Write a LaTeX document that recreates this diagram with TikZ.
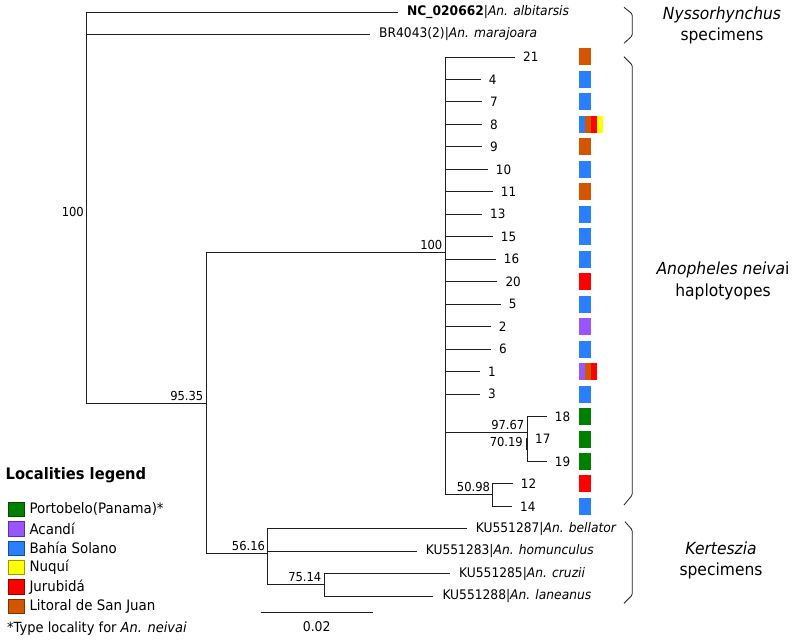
\documentclass[tikz,border=0pt]{standalone}
\usepackage{fontspec}
\setmainfont{DejaVu Sans}[FakeStretch=0.93]
\usepackage{tikz}
\usetikzlibrary{positioning}
\definecolor{locgreen}{RGB}{0, 128, 0}
\definecolor{locpurple}{RGB}{153, 85, 255}
\definecolor{locblue}{RGB}{42, 127, 255}
\definecolor{locyellow}{RGB}{255, 255, 0}
\definecolor{locred}{RGB}{255, 0, 0}
\definecolor{locorange}{RGB}{212, 85, 0}
\definecolor{branchgray}{RGB}{30, 30, 30}
\tikzset{
    branch/.style={draw=branchgray, line width=0.9pt},
    tiplabel/.style={anchor=west, inner xsep=8pt, inner ysep=1pt, font=\fontsize{12.9}{14}\selectfont},
    taxonlabel/.style={anchor=west, inner xsep=9pt, inner ysep=1pt, font=\fontsize{13.2}{14}\selectfont},
    bootval/.style={anchor=south east, inner sep=2.5pt, font=\fontsize{12.4}{13}\selectfont},
    hapbox/.style={anchor=west, minimum width=12.7pt, minimum height=17pt, inner sep=0pt},
    stripe/.style={anchor=west, minimum width=6.1pt, minimum height=17pt, inner sep=0pt},
    groupbrace/.style={draw=branchgray, line width=0.8pt, rounded corners=1.5pt},
    grouplabel/.style={align=center, font=\fontsize{16.7}{21.5}\selectfont},
    legendbox/.style={anchor=west, minimum width=15.5pt, minimum height=14.5pt, inner sep=0pt, line width=0.6pt},
    legendtext/.style={anchor=west, inner sep=0pt, font=\fontsize{14.4}{15}\selectfont},
}

\begin{document}
\begin{tikzpicture}[x=1pt, y=-1pt]
    \useasboundingbox (0,0) rectangle (800,644);

    % internal nodes of the tree
    \coordinate (root) at (86,212);
    \coordinate (n9535) at (206,403);
    \coordinate (n100) at (445,252);
    \coordinate (nclade) at (527,432.7);
    \coordinate (nsub) at (527,438);
    \coordinate (nsubend) at (527,450);
    \coordinate (n5098) at (492.7,494.3);
    \coordinate (nkert) at (267.7,553.3);
    \coordinate (n7514) at (324,584.3);

    % Nyssorhynchus tips
    \node[taxonlabel] (albitarsis) at (398,12.1) {\textbf{NC\_020662}|\textit{An. albitarsis}};
    \node[taxonlabel] (marajoara) at (370,34.5) {BR4043(2)|\textit{An. marajoara}};

    % haplotype tips
    \node[tiplabel] (h21) at (515,57.0) {21};
    \node[tiplabel] (h4) at (480.7,79.5) {4};
    \node[tiplabel] (h7) at (482,101.9) {7};
    \node[tiplabel] (h8) at (482,124.4) {8};
    \node[tiplabel] (h9) at (482,146.9) {9};
    \node[tiplabel] (h10) at (487.7,169.4) {10};
    \node[tiplabel] (h11) at (492.7,191.8) {11};
    \node[tiplabel] (h13) at (482,214.3) {13};
    \node[tiplabel] (h15) at (492.7,236.8) {15};
    \node[tiplabel] (h16) at (495.7,259.2) {16};
    \node[tiplabel] (h20) at (497.3,281.7) {20};
    \node[tiplabel] (h5) at (500.7,304.2) {5};
    \node[tiplabel] (h2) at (490.7,326.6) {2};
    \node[tiplabel] (h6) at (491,349.1) {6};
    \node[tiplabel] (h1) at (480,371.6) {1};
    \node[tiplabel] (h3) at (480,394.0) {3};
    \node[tiplabel] (h18) at (546.7,416.5) {18};
    \node[tiplabel] (h17) at (527,439.0) {17};
    \node[tiplabel] (h19) at (546.7,461.4) {19};
    \node[tiplabel] (h12) at (512.7,483.9) {12};
    \node[tiplabel] (h14) at (512,506.4) {14};

    % Kerteszia tips
    \node[taxonlabel] (bellator) at (466.7,528.8) {KU551287|\textit{An. bellator}};
    \node[taxonlabel] (homunculus) at (416.7,551.3) {KU551283|\textit{An. homunculus}};
    \node[taxonlabel] (cruzii) at (450,573.8) {KU551285|\textit{An. cruzii}};
    \node[taxonlabel] (laneanus) at (433.3,596.2) {KU551288|\textit{An. laneanus}};

    % branches
    \draw[branch] (root) |- (albitarsis.west);
    \draw[branch] (root) |- (marajoara.west);
    \draw[branch] (root) |- (n9535);
    \draw[branch] (n9535) |- (n100);
    \draw[branch] (n9535) |- (nkert);
    \draw[branch] (n100) |- (h21.west);
    \draw[branch] (n100) |- (h4.west);
    \draw[branch] (n100) |- (h7.west);
    \draw[branch] (n100) |- (h8.west);
    \draw[branch] (n100) |- (h9.west);
    \draw[branch] (n100) |- (h10.west);
    \draw[branch] (n100) |- (h11.west);
    \draw[branch] (n100) |- (h13.west);
    \draw[branch] (n100) |- (h15.west);
    \draw[branch] (n100) |- (h16.west);
    \draw[branch] (n100) |- (h20.west);
    \draw[branch] (n100) |- (h5.west);
    \draw[branch] (n100) |- (h2.west);
    \draw[branch] (n100) |- (h6.west);
    \draw[branch] (n100) |- (h1.west);
    \draw[branch] (n100) |- (h3.west);
    \draw[branch] (n100) |- (nclade);
    \draw[branch] (nclade) |- (h18.west);
    \draw[branch] (nclade) |- (h19.west);
    \draw[branch, line width=1.6pt] (nsub) -- (nsubend);
    \draw[branch] (n100) |- (n5098);
    \draw[branch] (n5098) |- (h12.west);
    \draw[branch] (n5098) |- (h14.west);
    \draw[branch] (nkert) |- (bellator.west);
    \draw[branch] (nkert) |- (homunculus.west);
    \draw[branch] (nkert) |- (n7514);
    \draw[branch] (n7514) |- (cruzii.west);
    \draw[branch] (n7514) |- (laneanus.west);

    % support values
    \node[bootval, anchor=east, inner sep=2pt] (bsroot) at (root) {100};
    \node[bootval] (bs9535) at (n9535) {95.35};
    \node[bootval] (bs100) at (n100) {100};
    \node[bootval] (bs9767) at (nclade) {97.67};
    \node[bootval, anchor=north east, yshift=-2pt, xshift=-1.5pt] (bs7019) at (nclade) {70.19};
    \node[bootval] (bs5098) at (n5098) {50.98};
    \node[bootval] (bs5616) at (nkert) {56.16};
    \node[bootval] (bs7514) at (n7514) {75.14};

    % locality boxes
    \node[hapbox, fill=locorange] (c21) at (578.3,57.0) {};
    \node[hapbox, fill=locblue] (c4) at (578.3,79.5) {};
    \node[hapbox, fill=locblue] (c7) at (578.3,101.9) {};
    \node[stripe, fill=locblue] (c8a) at (578.3,124.4) {};
    \node[stripe, fill=locorange] (c8b) at (584.4,124.4) {};
    \node[stripe, fill=locred] (c8c) at (590.5,124.4) {};
    \node[stripe, fill=locyellow] (c8d) at (596.6,124.4) {};
    \node[hapbox, fill=locorange] (c9) at (578.3,146.9) {};
    \node[hapbox, fill=locblue] (c10) at (578.3,169.4) {};
    \node[hapbox, fill=locorange] (c11) at (578.3,191.8) {};
    \node[hapbox, fill=locblue] (c13) at (578.3,214.3) {};
    \node[hapbox, fill=locblue] (c15) at (578.3,236.8) {};
    \node[hapbox, fill=locblue] (c16) at (578.3,259.2) {};
    \node[hapbox, fill=locred] (c20) at (578.3,281.7) {};
    \node[hapbox, fill=locblue] (c5) at (578.3,304.2) {};
    \node[hapbox, fill=locpurple] (c2) at (578.3,326.6) {};
    \node[hapbox, fill=locblue] (c6) at (578.3,349.1) {};
    \node[stripe, fill=locpurple] (c1a) at (578.3,371.6) {};
    \node[stripe, fill=locorange] (c1b) at (584.4,371.6) {};
    \node[stripe, fill=locred] (c1c) at (590.5,371.6) {};
    \node[hapbox, fill=locblue] (c3) at (578.3,394.0) {};
    \node[hapbox, fill=locgreen] (c18) at (578.3,416.5) {};
    \node[hapbox, fill=locgreen] (c17) at (578.3,439.0) {};
    \node[hapbox, fill=locgreen] (c19) at (578.3,461.4) {};
    \node[hapbox, fill=locred] (c12) at (578.3,483.9) {};
    \node[hapbox, fill=locblue] (c14) at (578.3,506.4) {};

    % group brackets
    \draw[groupbrace] (624,7.3) -- (632.3,14) -- (632.3,35.7) -- (624,43.3);
    \draw[groupbrace] (624,56.7) -- (632.3,65) -- (632.3,495) -- (624,505);
    \draw[groupbrace] (625,521.7) -- (632.3,530) -- (632.3,595) -- (624,603.3);
    \node[grouplabel] (nysso) at (722,25.5) {\textit{Nyssorhynchus}\\specimens};
    \node[grouplabel] (neivai) at (723,281) {\textit{Anopheles neiva}i\\haplotyopes};
    \node[grouplabel] (kert) at (721,560.5) {\textit{Kerteszia}\\specimens};

    % scale bar
    \coordinate (sbleft) at (260.7,612.3);
    \coordinate (sbright) at (373.3,612.3);
    \draw[branch] (sbleft) -- (sbright);
    \node[font=\fontsize{13.4}{14}\selectfont] (sbtext) at (316.7,626.5) {0.02};

    % legend
    \node[anchor=west, inner sep=0pt, font=\bfseries\fontsize{15.8}{17}\selectfont] (legtitle) at (5.5,475) {Localities legend};
    \node[legendbox, fill=locgreen, draw=locgreen!60!black] (lgreen) at (8.3,509.3) {};
    \node[legendbox, fill=locpurple, draw=locpurple!60!black] (lpurple) at (8.3,528.7) {};
    \node[legendbox, fill=locblue, draw=locblue!60!black] (lblue) at (8.3,548.1) {};
    \node[legendbox, fill=locyellow, draw=locyellow!60!black] (lyellow) at (8.3,567.5) {};
    \node[legendbox, fill=locred, draw=locred!60!black] (lred) at (8.3,586.9) {};
    \node[legendbox, fill=locorange, draw=locorange!60!black] (lorange) at (8.3,606.3) {};
    \node[legendtext] (tgreen) at (29.3,509.3) {Portobelo(Panama)*};
    \node[legendtext] (tpurple) at (29.3,528.7) {Acandí};
    \node[legendtext] (tblue) at (29.3,548.1) {Bahía Solano};
    \node[legendtext] (tyellow) at (29.3,567.5) {Nuquí};
    \node[legendtext] (tred) at (29.3,586.9) {Jurubidá};
    \node[legendtext] (torange) at (29.3,606.3) {Litoral de San Juan};
    \node[legendtext, font=\fontsize{14}{15}\selectfont] (typenote) at (7,629) {*Type locality for \textit{An. neivai}};
\end{tikzpicture}
\end{document}
